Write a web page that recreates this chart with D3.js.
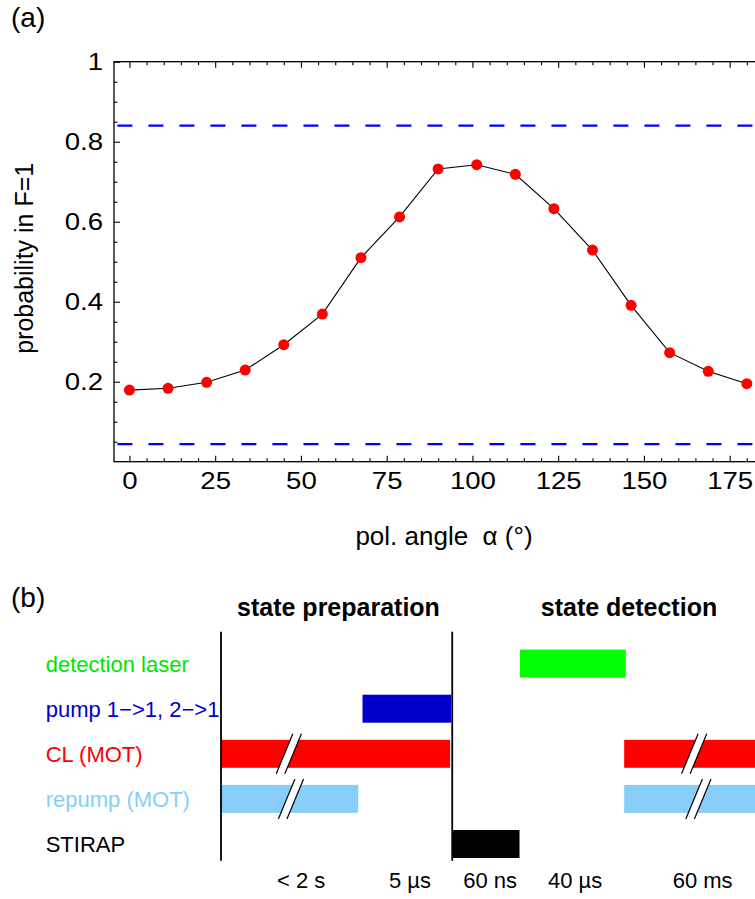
<!DOCTYPE html>
<html>
<head>
<meta charset="utf-8">
<script src="https://cdn.jsdelivr.net/npm/d3@7"></script>
<style>
  html, body { margin: 0; padding: 0; background: #fff; }
  svg { display: block; font-family: "Liberation Sans", Arial, Helvetica, sans-serif; }
</style>
</head>
<body>
<svg id="fig" width="755" height="899"></svg>
<script>
// ---------- (a) measured F=1 probability vs. polarisation angle ----------
const angles = [0, 11.25, 22.5, 33.75, 45, 56.25, 67.5, 78.75, 90, 101.25, 112.5, 123.75, 135, 146.25, 157.5, 168.75, 180];
const probF1 = [0.179, 0.1835, 0.1985, 0.229, 0.2925, 0.369, 0.51, 0.612, 0.732, 0.7425, 0.7184, 0.6326, 0.529, 0.391, 0.2726, 0.226, 0.195];
const limitLevels = [0.044, 0.84];
const xTicks = [0, 25, 50, 75, 100, 125, 150, 175];
const yTicks = [0.2, 0.4, 0.6, 0.8, 1];
const yTickLabels = ["0.2", "0.4", "0.6", "0.8", "1"];

// ---------- (b) pulse sequence (schematic time units) ----------
const channels = ["detection laser", "pump 1\u2212>1, 2\u2212>1", "CL (MOT)", "repump (MOT)", "STIRAP"];
const channelColors = ["#00ff00", "#0000cc", "#ff0000", "#87cefa", "#000000"];
const labelColors = ["#00e600", "#0000cc", "#ff0000", "#87cefa", "#000000"];
const pulseChannel = [0, 1, 2, 2, 3, 3, 4];
const pulseStart = [56.0, 26.5, 0, 75.5, 0, 75.5, 43.3];
const pulseEnd = [75.8, 43.1, 42.9, 104, 25.7, 104, 55.9];
const pulseBreak = [null, null, 12.7, 88.6, 13.1, 89.4, null];
const phaseBounds = [0, 43.3];
const phaseTitles = ["state preparation", "state detection"];
const phaseTitlePos = [22.0, 76.4];
const durationLabels = ["< 2 s", "5 \u00b5s", "60 ns", "40 \u00b5s", "60 ms"];
const durationPos = [15.0, 35.4, 50.4, 66.3, 90.2];

const svg = d3.select("#fig");

// ===== panel (a) =====
const x = d3.scaleLinear().domain([-4.5, 190]).range([114, 114 + 194.5 * 3.43]);
const y = d3.scaleLinear().domain([0, 1]).range([461.7, 61.7]);

svg.append("text").attr("x", 11).attr("y", 27.4)
  .attr("font-size", 28).text("(a)");

const pa = svg.append("g");

// minor ticks
const minorX = d3.range(0, 190, 5).filter(v => v % 25 !== 0);
const minorY = d3.range(0.05, 1, 0.05).filter(v => Math.abs(v / 0.2 - Math.round(v / 0.2)) > 1e-6);

function styleAxis(g) {
  g.select(".domain").remove();
  g.selectAll("line").attr("stroke", "#000").attr("stroke-width", 1.1);
}

pa.append("g").attr("transform", `translate(0,${y(0)})`)
  .call(d3.axisBottom(x).tickValues(minorX).tickSize(-3.5).tickFormat(""))
  .call(styleAxis);
pa.append("g").attr("transform", `translate(0,${y(1)})`)
  .call(d3.axisTop(x).tickValues(minorX).tickSize(-3.5).tickFormat(""))
  .call(styleAxis);
pa.append("g").attr("transform", `translate(${x.range()[0]},0)`)
  .call(d3.axisLeft(y).tickValues(minorY).tickSize(-3.5).tickFormat(""))
  .call(styleAxis);

// major ticks with labels
const xAxis = pa.append("g").attr("transform", `translate(0,${y(0)})`)
  .call(d3.axisBottom(x).tickValues(xTicks).tickSize(-6).tickPadding(10.5).tickFormat(d3.format("d")))
  .call(styleAxis);
xAxis.selectAll("text").attr("font-size", 24).attr("font-family", null)
  .attr("fill", "#000").attr("transform", "scale(1.15,1)");

pa.append("g").attr("transform", `translate(0,${y(1)})`)
  .call(d3.axisTop(x).tickValues(xTicks).tickSize(-6).tickFormat(""))
  .call(styleAxis);

const yAxis = pa.append("g").attr("transform", `translate(${x.range()[0]},0)`)
  .call(d3.axisLeft(y).tickValues(yTicks).tickSize(-6).tickPadding(9.5)
    .tickFormat((d, i) => yTickLabels[i]))
  .call(styleAxis);
yAxis.selectAll("text").attr("font-size", 24).attr("font-family", null)
  .attr("fill", "#000").attr("transform", "scale(1.15,1)");

// frame
pa.append("rect")
  .attr("x", x.range()[0]).attr("y", y(1))
  .attr("width", x.range()[1] - x.range()[0]).attr("height", y(0) - y(1))
  .attr("fill", "none").attr("stroke", "#000").attr("stroke-width", 1.3);

// dashed reference levels
pa.selectAll("line.limit").data(limitLevels).join("line")
  .attr("class", "limit")
  .attr("x1", x(-3.5)).attr("x2", x(190))
  .attr("y1", d => y(d)).attr("y2", d => y(d))
  .attr("stroke", "#0000ff").attr("stroke-width", 2.2)
  .attr("stroke-dasharray", "15,16");

// data line and points
const pts = angles.map((a, i) => [a, probF1[i]]);
pa.append("path").datum(pts)
  .attr("d", d3.line().x(d => x(d[0])).y(d => y(d[1])))
  .attr("fill", "none").attr("stroke", "#000").attr("stroke-width", 1.1);
pa.selectAll("circle").data(pts).join("circle")
  .attr("cx", d => x(d[0])).attr("cy", d => y(d[1])).attr("r", 5.5)
  .attr("fill", "#ff0000");

// axis titles
svg.append("text")
  .attr("transform", "translate(33,258.3) rotate(-90)")
  .attr("text-anchor", "middle").attr("font-size", 25)
  .text("probability in F=1");
svg.append("text")
  .attr("x", 444).attr("y", 545).attr("text-anchor", "middle")
  .attr("font-size", 26).style("white-space", "pre")
  .text("pol. angle  \u03b1 (\u00b0)");

// ===== panel (b) =====
svg.append("text").attr("x", 11).attr("y", 607)
  .attr("font-size", 28).text("(b)");

const t = d3.scaleLinear().domain([0, 100]).range([221, 755]);
const row = d3.scalePoint().domain(d3.range(channels.length)).range([663.6, 844]);
const barH = 28;

const pb = svg.append("g");

// phase titles
pb.selectAll("text.phase").data(phaseTitles).join("text")
  .attr("class", "phase")
  .attr("x", (d, i) => t(phaseTitlePos[i])).attr("y", 616)
  .attr("text-anchor", "middle").attr("font-size", 25).attr("font-weight", "bold")
  .text(d => d);

// channel labels
pb.selectAll("text.chan").data(channels).join("text")
  .attr("class", "chan")
  .attr("x", 45.7).attr("y", (d, i) => row(i) + 8)
  .attr("font-size", 22).attr("fill", (d, i) => labelColors[i])
  .text(d => d);

// pulses
const pulses = pulseChannel.map((c, i) => ({ c, s: pulseStart[i], e: pulseEnd[i], b: pulseBreak[i] }));
pb.selectAll("rect.pulse").data(pulses).join("rect")
  .attr("class", "pulse")
  .attr("x", d => t(d.s)).attr("width", d => t(d.e) - t(d.s))
  .attr("y", d => row(d.c) - barH / 2).attr("height", barH)
  .attr("fill", d => channelColors[d.c]);

// axis-break marks on the long pulses
const brk = pb.selectAll("g.brk").data(pulses.filter(d => d.b !== null)).join("g")
  .attr("class", "brk")
  .attr("transform", d => `translate(${t(d.b)},${row(d.c)})`);
const ext = barH / 2 + 6, lean = 8.3, gap = 4.3;
const k = (barH / 2 + 1) / ext;
brk.append("polygon")
  .attr("points", `${-gap - lean * k},${barH / 2 + 1} ${-gap + lean * k},${-barH / 2 - 1} ${gap + lean * k},${-barH / 2 - 1} ${gap - lean * k},${barH / 2 + 1}`)
  .attr("fill", "#fff");
[-gap, gap].forEach(o => {
  brk.append("line")
    .attr("x1", o - lean).attr("y1", ext)
    .attr("x2", o + lean).attr("y2", -ext)
    .attr("stroke", "#000").attr("stroke-width", 1.2);
});

// phase boundary lines
pb.selectAll("line.bound").data(phaseBounds).join("line")
  .attr("class", "bound")
  .attr("x1", d => t(d)).attr("x2", d => t(d))
  .attr("y1", 631.7).attr("y2", 860.7)
  .attr("stroke", "#000").attr("stroke-width", 1.8);

// durations
pb.selectAll("text.dur").data(durationLabels).join("text")
  .attr("class", "dur")
  .attr("x", (d, i) => t(durationPos[i])).attr("y", 888)
  .attr("text-anchor", "middle").attr("font-size", 22)
  .text(d => d);
</script>
</body>
</html>
